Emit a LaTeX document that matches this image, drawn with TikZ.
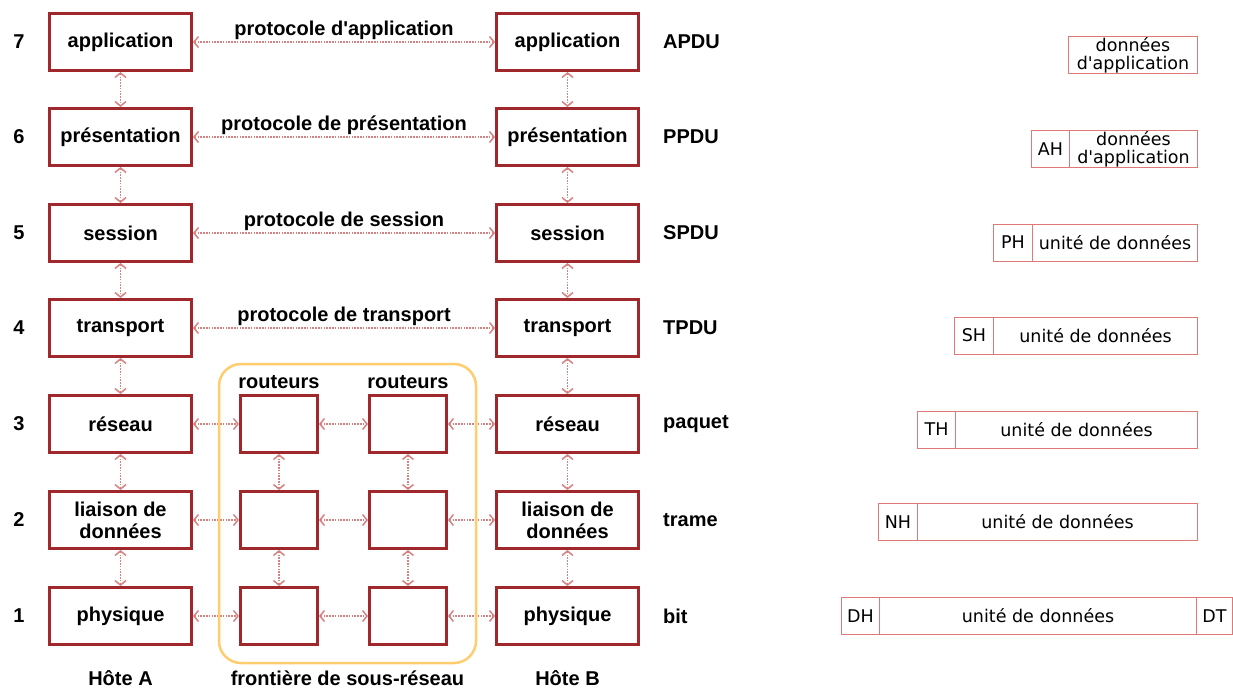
\documentclass[tikz,border=0pt]{standalone}
\usepackage{fontspec}
\setmainfont{Liberation Sans}
\newfontfamily\pdufont{DejaVu Sans}
\usetikzlibrary{arrows.meta}
\definecolor{boxred}{RGB}{160,40,45}
\definecolor{linkred}{RGB}{215,130,130}
\definecolor{subnetorange}{RGB}{255,205,110}
\definecolor{pduline}{RGB}{225,120,120}

\begin{document}
\begin{tikzpicture}[x=1pt,y=-1pt,
  layer/.style={draw=boxred, line width=3pt, fill=white, minimum width=142pt,
    minimum height=57pt, inner sep=0pt, align=center,
    font=\fontsize{20}{22}\selectfont\bfseries},
  router/.style={draw=boxred, line width=3pt, fill=white, minimum width=77pt,
    minimum height=57pt, inner sep=0pt},
  barb/.tip={Straight Barb[length=4.5pt,width=11pt,line width=1.5pt]},
  link/.style={draw=linkred, line width=1.8pt, dash pattern=on 1.6pt off 1.2pt,
    barb-barb},
  lbl/.style={font=\fontsize{20}{22}\selectfont\bfseries, inner sep=0pt},
  cell/.style={draw=pduline, line width=1pt, minimum height=37pt, inner sep=0pt,
    anchor=west, align=center, font=\pdufont\fontsize{17.5}{18}\selectfont},
]
\useasboundingbox (0,0) rectangle (1233,689);

% host A stack
\node[layer] (A7) at (120.5,42)  {application};
\node[layer] (A6) at (120.5,137) {présentation};
\node[layer] (A5) at (120.5,233) {session};
\node[layer] (A4) at (120.5,328) {transport};
\node[layer] (A3) at (120.5,424) {réseau};
\node[layer] (A2) at (120.5,520) {liaison de\\données};
\node[layer] (A1) at (120.5,616) {physique};

% host B stack
\node[layer] (B7) at (567.5,42)  {application};
\node[layer] (B6) at (567.5,137) {présentation};
\node[layer] (B5) at (567.5,233) {session};
\node[layer] (B4) at (567.5,328) {transport};
\node[layer] (B3) at (567.5,424) {réseau};
\node[layer] (B2) at (567.5,520) {liaison de\\données};
\node[layer] (B1) at (567.5,616) {physique};

% routers
\node[router] (R3a) at (279,424) {};
\node[router] (R2a) at (279,520) {};
\node[router] (R1a) at (279,616) {};
\node[router] (R3b) at (408,424) {};
\node[router] (R2b) at (408,520) {};
\node[router] (R1b) at (408,616) {};

% layer numbers
\node[lbl] (n7) at (19,42)  {7};
\node[lbl] (n6) at (19,137) {6};
\node[lbl] (n5) at (19,233) {5};
\node[lbl] (n4) at (19,328) {4};
\node[lbl] (n3) at (19,424) {3};
\node[lbl] (n2) at (19,520) {2};
\node[lbl] (n1) at (19,616) {1};

% PDU names
\node[lbl, anchor=west] (p7) at (663,42)  {APDU};
\node[lbl, anchor=west] (p6) at (663,137) {PPDU};
\node[lbl, anchor=west] (p5) at (663,233) {SPDU};
\node[lbl, anchor=west] (p4) at (663,328) {TPDU};
\node[lbl, anchor=west] (p3) at (663,424) {paquet};
\node[lbl, anchor=west] (p2) at (663,520) {trame};
\node[lbl, anchor=west] (p1) at (663,616) {bit};

% peer protocols
\node[lbl] (pr7) at (344,30)  {protocole d\textquotesingle application};
\node[lbl] (pr6) at (344,125) {protocole de présentation};
\node[lbl] (pr5) at (344,221) {protocole de session};
\node[lbl] (pr4) at (344,316) {protocole de transport};

% other captions
\node[lbl] (rt1) at (279,382) {routeurs};
\node[lbl] (rt2) at (408,382) {routeurs};
\node[lbl] (hA) at (120.5,678) {Hôte A};
\node[lbl] (hB) at (567.5,678) {Hôte B};
\node[lbl] (fr) at (347.5,678) {frontière de sous-réseau};

% horizontal links
\draw[link] (A7) -- (B7);
\draw[link] (A6) -- (B6);
\draw[link] (A5) -- (B5);
\draw[link] (A4) -- (B4);
\draw[link] (A3) -- (R3a);
\draw[link] (R3a) -- (R3b);
\draw[link] (R3b) -- (B3);
\draw[link] (A2) -- (R2a);
\draw[link] (R2a) -- (R2b);
\draw[link] (R2b) -- (B2);
\draw[link] (A1) -- (R1a);
\draw[link] (R1a) -- (R1b);
\draw[link] (R1b) -- (B1);

% vertical links
\foreach \u/\l in {7/6,6/5,5/4,4/3,3/2,2/1}{
  \draw[link] (A\u) -- (A\l);
  \draw[link] (B\u) -- (B\l);
}
\foreach \u/\l in {3/2,2/1}{
  \draw[link] (R\u a) -- (R\l a);
  \draw[link] (R\u b) -- (R\l b);
}

% sub-network boundary
\node[draw=subnetorange, line width=2.5pt, rounded corners=22pt,
  minimum width=257pt, minimum height=299pt, inner sep=0pt] (sousreseau) at (347.5,513.5) {};

% encapsulation
\node[cell, minimum width=129pt] (d7) at (1068,55) {données\\d'application};

\node[cell, minimum width=38pt]  (h6) at (1031,149) {AH};
\node[cell, minimum width=128pt] (d6) at (1069,149) {données\\d'application};

\node[cell, minimum width=39pt]  (h5) at (993,242.5) {PH};
\node[cell, minimum width=165pt] (d5) at (1032,242.5) {unité de données};

\node[cell, minimum width=39pt]  (h4) at (954,335.5) {SH};
\node[cell, minimum width=204pt] (d4) at (993,335.5) {unité de données};

\node[cell, minimum width=38pt]  (h3) at (917,429.5) {TH};
\node[cell, minimum width=242pt] (d3) at (955,429.5) {unité de données};

\node[cell, minimum width=39pt]  (h2) at (878,522) {NH};
\node[cell, minimum width=280pt] (d2) at (917,522) {unité de données};

\node[cell, minimum width=38pt]  (h1) at (841,616) {DH};
\node[cell, minimum width=317pt] (d1) at (879,616) {unité de données};
\node[cell, minimum width=36pt]  (t1) at (1196,616) {DT};
\end{tikzpicture}
\end{document}
